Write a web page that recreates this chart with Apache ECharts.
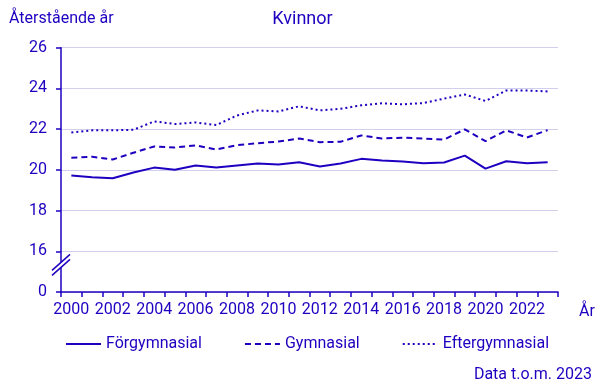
<!DOCTYPE html>
<html>
<head>
<meta charset="utf-8">
<script src="https://cdn.jsdelivr.net/npm/echarts@6/dist/echarts.min.js"></script>
<style>html,body{margin:0;padding:0;background:#fff}#c{width:605px;height:385px}</style>
</head>
<body>
<div id="c"></div>
<script>
const years = ['2000','2001','2002','2003','2004','2005','2006','2007','2008','2009','2010','2011','2012','2013','2014','2015','2016','2017','2018','2019','2020','2021','2022','2023'];
const forgymnasial = [19.72,19.64,19.59,19.87,20.11,20.01,20.21,20.11,20.21,20.31,20.26,20.37,20.16,20.31,20.54,20.46,20.41,20.33,20.36,20.70,20.06,20.42,20.33,20.37];
const gymnasial = [20.60,20.64,20.51,20.84,21.15,21.10,21.20,21.00,21.21,21.31,21.39,21.54,21.36,21.38,21.69,21.54,21.58,21.54,21.49,21.99,21.41,21.94,21.59,21.95];
const eftergymnasial = [21.84,21.94,21.94,21.97,22.38,22.25,22.33,22.20,22.67,22.92,22.87,23.12,22.92,23.00,23.17,23.27,23.22,23.28,23.50,23.70,23.38,23.90,23.90,23.85];
const yTicks = {14:'0',16:'16',18:'18',20:'20',22:'22',24:'24',26:'26'};

const C = '#1e00c0';
const F = 'Roboto';
const chart = echarts.init(document.getElementById('c'), null, {renderer:'canvas'});
const mk = (name, data, type, w) => ({
  name, type:'line', data, symbol:'none', smooth:false,
  lineStyle:{color:C, width:w, type},
  itemStyle:{color:C}
});
chart.setOption({
  animation:false,
  textStyle:{fontFamily:F},
  title:[
    {text:'Kvinnor', left:'center', top:5, textStyle:{fontFamily:F, fontSize:18, fontWeight:'normal', color:C}},
    {text:'Återstående år', left:4, top:6, textStyle:{fontFamily:F, fontSize:16, fontWeight:'normal', color:C}},
    {text:'Data t.o.m. 2023', right:8, top:362, textStyle:{fontFamily:F, fontSize:16, fontWeight:'normal', color:C}}
  ],
  grid:{left:61, right:47, top:47.7, bottom:93, containLabel:false},
  legend:{
    top:331, left:60, itemWidth:35, itemHeight:10, itemGap:42,
    itemStyle:{opacity:0},
    textStyle:{fontFamily:F, fontSize:16, color:C},
    data:['Förgymnasial','Gymnasial','Eftergymnasial']
  },
  xAxis:{
    type:'category', data:years, boundaryGap:true,
    axisLine:{lineStyle:{color:C, width:1.5}},
    axisTick:{show:true, interval:0, length:5, lineStyle:{color:C, width:1.5}},
    axisLabel:{interval:1, color:C, fontSize:16, fontFamily:F, margin:10},
    splitLine:{show:false}
  },
  yAxis:{
    type:'value', min:14, max:26, interval:2,
    axisLine:{show:true, lineStyle:{color:C, width:1.5}},
    axisTick:{show:true, length:5, lineStyle:{color:C, width:1.5}},
    axisLabel:{color:C, fontSize:16, fontFamily:F, margin:14, formatter:v=>yTicks[v]!==undefined?yTicks[v]:''},
    splitLine:{lineStyle:{color:'#d0d0ee', width:1}}
  },
  series:[
    mk('Förgymnasial', forgymnasial, 'solid', 2),
    mk('Gymnasial', gymnasial, [6,4], 2),
    mk('Eftergymnasial', eftergymnasial, [2,3], 2)
  ]
});

const step = chart.convertToPixel({xAxisIndex:0},1)-chart.convertToPixel({xAxisIndex:0},0);
const x0 = chart.convertToPixel({xAxisIndex:0}, 0) - step/2;
const cy = chart.convertToPixel({yAxisIndex:0}, 15.33);
const xEnd = chart.convertToPixel({xAxisIndex:0}, 23) + step/2;
const xAxisY = chart.convertToPixel({yAxisIndex:0}, 14);
chart.setOption({
  graphic:[
    {type:'polygon', z:100, shape:{points:[[x0-9,cy+5.5],[x0+9,cy-10.5],[x0+9,cy-5.5],[x0-9,cy+10.5]]}, style:{fill:'#fff'}},
    {type:'line', z:101, shape:{x1:x0-9,y1:cy+5.5,x2:x0+9,y2:cy-10.5}, style:{stroke:C, lineWidth:1.5}},
    {type:'line', z:101, shape:{x1:x0-9,y1:cy+10.5,x2:x0+9,y2:cy-5.5}, style:{stroke:C, lineWidth:1.5}},
    {type:'text', z:101, left:xEnd+21, top:xAxisY+12, style:{text:'År', fill:C, font:'16px Roboto'}}
  ]
});
</script>
</body>
</html>
